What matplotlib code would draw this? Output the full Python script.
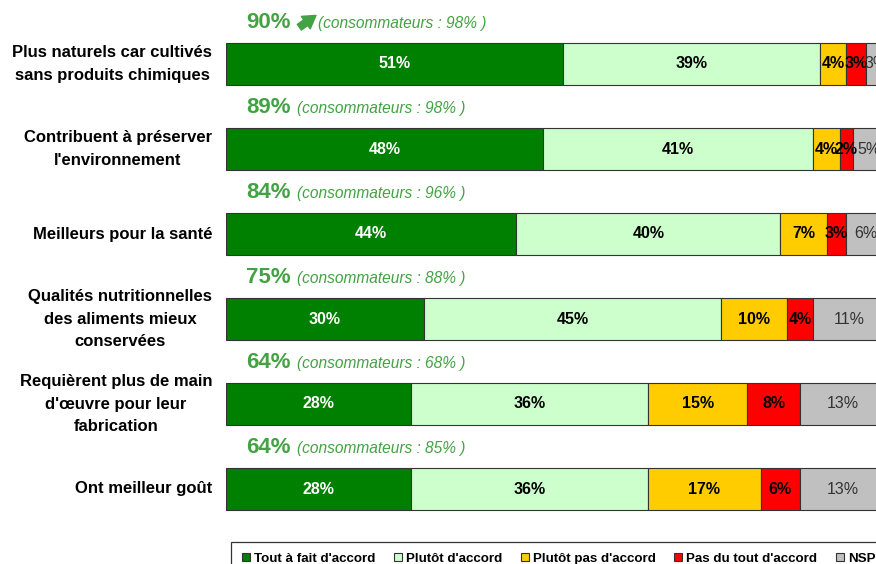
import matplotlib.pyplot as plt
from matplotlib.text import OffsetFrom
import numpy as np

plt.rcParams['font.family'] = ['Liberation Sans', 'DejaVu Sans']

categories = [
    "Plus naturels car cultivés\nsans produits chimiques",
    "Contribuent à préserver\nl'environnement",
    "Meilleurs pour la santé",
    "Qualités nutritionnelles\ndes aliments mieux\nconservées",
    "Requièrent plus de main\nd'œuvre pour leur\nfabrication",
    "Ont meilleur goût",
]
series = ["Tout à fait d'accord", "Plutôt d'accord", "Plutôt pas d'accord",
          "Pas du tout d'accord", "NSP"]
values = np.array([
    [51, 39, 4, 3, 3],
    [48, 41, 4, 2, 5],
    [44, 40, 7, 3, 6],
    [30, 45, 10, 4, 11],
    [28, 36, 15, 8, 13],
    [28, 36, 17, 6, 13],
])
totals = [90, 89, 84, 75, 64, 64]
consumers = [98, 98, 96, 88, 68, 85]
trend_up = [True, False, False, False, False, False]

colors = ['#008000', '#ccffcc', '#ffcc00', '#ff0000', '#c0c0c0']
text_colors = ['white', 'black', 'black', 'black', '#333333']
text_weights = ['bold', 'bold', 'bold', 'bold', 'normal']
head_green = '#43a243'

W, H = 876, 564
fig = plt.figure(figsize=(W / 100, H / 100), dpi=100)
ax = fig.add_axes([226 / W, 32.5 / H, 650 / W, 510 / H])

y = np.arange(len(categories))
left = np.zeros(len(categories))
for j in range(len(series)):
    ax.barh(y, values[:, j], left=left, height=0.49, color=colors[j],
            edgecolor='#333333', linewidth=0.8, label=series[j])
    for i in range(len(categories)):
        ax.text(left[i] + values[i, j] / 2, y[i], "%d%%" % values[i, j],
                ha='center', va='center', fontsize=11.5,
                color=text_colors[j], fontweight=text_weights[j])
    left += values[:, j]

ax.set_xlim(0, 98.5)
ax.set_ylim(5.5, -0.5)
ax.axis('off')

# libellés des items
for i, c in enumerate(categories):
    ax.text(-2.1, y[i], c, ha='right', va='center', multialignment='center',
            fontsize=12, fontweight='bold', color='black', linespacing=1.65)

# total d'accord au-dessus de chaque barre
for i in range(len(categories)):
    t = ax.text(3.0, y[i] - 0.49, "%d%%" % totals[i], ha='left', va='center',
                fontsize=16, fontweight='bold', color=head_green)
    gap = 5
    if trend_up[i]:
        ref = OffsetFrom(t, (1, 0.5))
        ax.annotate("", xy=(18.5, 5), xycoords=ref, xytext=(6.5, -3.5),
                    textcoords=ref,
                    arrowprops=dict(arrowstyle='simple,head_width=1.1,head_length=0.9,tail_width=0.5',
                                    color=head_green, shrinkA=0, shrinkB=0))
        gap = 20
    ax.annotate("(consommateurs : %d%% )" % consumers[i], xy=(1, 0.5),
                xycoords=t, xytext=(gap, -1), textcoords='offset points',
                ha='left', va='center', fontsize=11.2, style='italic',
                color=head_green)

handles, labels = ax.get_legend_handles_labels()
leg = fig.legend(handles, labels, loc='upper left',
                 bbox_to_anchor=(231 / W, 1 - 542 / H), ncol=5,
                 frameon=True, fancybox=False, edgecolor='black',
                 handlelength=0.6, handleheight=0.6, handletextpad=0.3,
                 columnspacing=1.4, borderpad=0.8, borderaxespad=0,
                 prop={'size': 9.6, 'weight': 'bold'})
leg.get_frame().set_linewidth(0.9)

fig.savefig('out.png', dpi=100)
